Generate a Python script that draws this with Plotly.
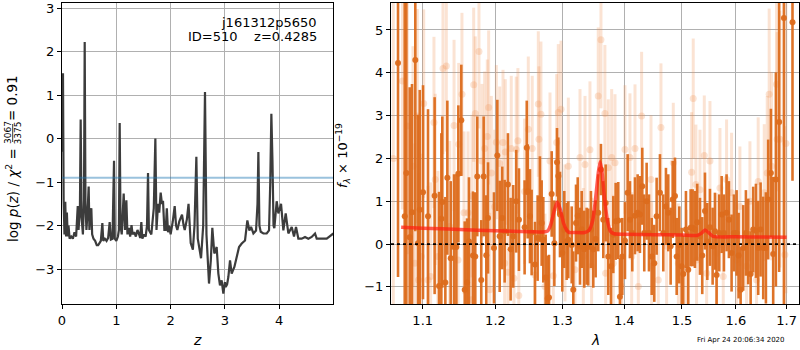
import plotly.graph_objects as go

# ---------------- Left panel: log p(z) ----------------
z_grid = [0.000, 0.018, 0.030, 0.045, 0.060, 0.075, 0.090, 0.105, 0.120, 0.140, 0.170, 0.200, 0.230, 0.260,
          0.290, 0.305, 0.330, 0.344, 0.360, 0.385, 0.405, 0.418, 0.432, 0.450, 0.470, 0.491, 0.505, 0.520,
          0.540, 0.555, 0.580, 0.610, 0.640, 0.665, 0.690, 0.715, 0.743, 0.760, 0.790, 0.820, 0.850, 0.878,
          0.900, 0.930, 0.945, 0.958, 0.972, 1.000, 1.030, 1.048, 1.062, 1.078, 1.100, 1.136, 1.160, 1.185,
          1.205, 1.230, 1.255, 1.280, 1.300, 1.330, 1.360, 1.390, 1.420, 1.440, 1.461, 1.480, 1.510, 1.540,
          1.565, 1.584, 1.600, 1.645, 1.690, 1.719, 1.740, 1.768, 1.790, 1.817, 1.840, 1.860, 1.885, 1.910,
          1.930, 1.952, 1.975, 2.000, 2.040, 2.075, 2.100, 2.124, 2.160, 2.210, 2.240, 2.260, 2.300, 2.330,
          2.370, 2.410, 2.440, 2.474, 2.500, 2.523, 2.560, 2.600, 2.633, 2.660, 2.690, 2.707, 2.740, 2.768,
          2.805, 2.848, 2.879, 2.909, 2.940, 2.971, 3.000, 3.014, 3.040, 3.063, 3.094, 3.124, 3.174, 3.217,
          3.260, 3.309, 3.370, 3.413, 3.450, 3.481, 3.524, 3.573, 3.600, 3.616, 3.635, 3.659, 3.708, 3.769,
          3.812, 3.835, 3.855, 3.875, 3.895, 3.910, 3.953, 3.984, 4.033, 4.076, 4.119, 4.168, 4.230, 4.272,
          4.309, 4.352, 4.414, 4.475, 4.536, 4.598, 4.659, 4.690, 4.782, 4.874, 4.935, 4.996]
log_pz = [-0.30, 1.50, -1.40, -2.20, -1.45, -2.25, -1.70, -2.25, -2.00, -2.30, -2.25, -2.30, -2.15, -2.25,
          -1.55, -2.10, -1.60, 0.44, -1.80, -2.20, -1.40, 2.22, -1.50, -2.10, -1.70, -1.10, -2.10, -1.70,
          -1.60, -2.20, -2.30, -2.35, -2.45, -2.45, -2.40, -2.35, -1.94, -2.35, -2.30, -2.35, -2.28, -1.92,
          -2.32, -2.30, -1.30, -0.51, -2.30, -2.35, -2.25, -2.10, 0.36, -2.00, -2.20, -1.26, -2.10, -1.42,
          -2.20, -2.05, -2.25, -1.99, -2.20, -2.15, -2.25, -2.10, -2.20, -2.28, -1.92, -2.30, -2.20, -2.25,
          -2.00, -0.79, -2.10, -2.20, -1.60, 0.00, -2.10, -1.50, -1.70, -1.24, -1.50, -1.43, -2.10, -2.10,
          -1.60, -2.15, -2.00, -2.20, -1.90, -1.55, -2.00, -2.10, -1.90, -1.75, -2.00, -2.10, -1.85, -1.50,
          -2.40, -2.55, -2.00, -0.42, -2.30, -2.49, -2.75, -2.00, 1.07, -2.20, -3.00, -3.33, -2.80, -2.05,
          -2.64, -2.49, -3.10, -3.37, -3.26, -3.56, -3.30, -3.41, -3.35, -3.18, -2.80, -3.10, -2.95, -2.72,
          -2.49, -2.41, -2.34, -1.88, -2.11, -2.03, -2.18, -2.11, -1.50, -0.31, -2.00, -2.14, -2.18, -2.18,
          -2.11, -1.00, 0.57, -0.50, -2.00, -2.06, -1.44, -1.72, -1.50, -2.11, -1.72, -2.18, -2.03, -2.25,
          -2.03, -2.30, -2.30, -2.26, -2.30, -2.26, -2.18, -2.30, -2.30, -2.30, -2.24, -2.18]
pz_threshold = -0.9
left_xticks = [0, 1, 2, 3, 4]
left_yticks = [-3, -2, -1, 0, 1, 2, 3]

# ---------------- Right panel: spectrum ----------------
dark_lam = [1.0680, 1.0766, 1.0787, 1.0830, 1.0860, 1.0903, 1.0938, 1.0961, 1.1004, 1.1070, 1.1158, 1.1217,
            1.1248, 1.1261, 1.1302, 1.1329, 1.1375, 1.1420, 1.1452, 1.1479, 1.1520, 1.1567, 1.1599, 1.1626,
            1.1682, 1.1714, 1.1742, 1.1798, 1.1832, 1.1869, 1.1894, 1.1979, 1.2027, 1.2061, 1.2098, 1.2133,
            1.2181, 1.2220, 1.2258, 1.2302, 1.2342, 1.2426, 1.2458, 1.2472, 1.2506, 1.2531, 1.2581, 1.2621,
            1.2656, 1.2682, 1.2707, 1.2743, 1.2774, 1.2794, 1.2835, 1.2876, 1.2917, 1.2937, 1.2963, 1.2999,
            1.3030, 1.3067, 1.3093, 1.3146, 1.3171, 1.3214, 1.3241, 1.3277, 1.3304, 1.3345, 1.3383, 1.3409,
            1.3452, 1.3490, 1.3528, 1.3570, 1.3614, 1.3652, 1.3691, 1.3734, 1.3779, 1.3817, 1.3856, 1.3899,
            1.3927, 1.3966, 1.4011, 1.4056, 1.4095, 1.4134, 1.4180, 1.4225, 1.4264, 1.4304, 1.4338, 1.4379,
            1.4419, 1.4466, 1.4511, 1.4552, 1.4610, 1.4668, 1.4715, 1.4756, 1.4798, 1.4834, 1.4875, 1.4905,
            1.4952, 1.4994, 1.5023, 1.5071, 1.5113, 1.5156, 1.5192, 1.5234, 1.5276, 1.5326, 1.5368, 1.5418,
            1.5461, 1.5510, 1.5560, 1.5603, 1.5634, 1.5684, 1.5729, 1.5772, 1.5822, 1.5866, 1.5917, 1.5961,
            1.6013, 1.6051, 1.6090, 1.6140, 1.6192, 1.6237, 1.6284, 1.6334, 1.6387, 1.6432, 1.6479, 1.6531,
            1.6584, 1.6629, 1.6683, 1.6729, 1.6783, 1.6849, 1.6945, 1.7120]
dark_flux = [4.23, 0.65, 1.66, 0.16, 0.74, 4.30, 0.02, 0.80, 1.21, 0.65, 1.13, -0.98,
             0.59, 0.98, -0.90, 1.55, -0.33, -0.07, -0.07, 1.64, 2.89, -1.07, -0.90, 0.06,
             -0.27, -0.29, 1.58, -0.84, 1.58, -0.26, 0.61, -0.09, 2.07, 0.18, 0.61, 0.30,
             1.39, -0.12, 0.18, 1.00, 0.57, 0.39, 2.25, 1.23, 0.65, 0.27, -0.48, 0.14,
             1.05, 0.49, 0.10, -0.78, -1.27, -1.25, 1.17, 0.02, 1.91, 1.59, 0.69, -0.21,
             0.34, 0.06, 0.10, -0.02, -1.07, 0.49, 0.66, -0.05, 0.34, -0.12, -0.05, -0.07,
             0.34, -0.12, 0.12, 0.73, 1.74, 0.57, 0.96, -0.29, -0.52, 0.22, 0.53, 0.55,
             -1.23, -0.29, 0.08, 1.20, 0.57, 0.26, 0.66, 0.73, 0.69, 1.35, 0.26, 1.00,
             0.26, -0.29, -0.45, 0.65, 1.20, 0.26, 0.88, 0.73, -0.05, 1.04, 1.12, -0.29,
             -0.02, -0.52, -0.70, 0.34, -0.60, 0.38, 0.38, 0.34, 0.51, 0.18, -0.27, 0.77,
             0.06, 0.39, -0.05, 0.30, -0.72, 0.26, 0.69, 0.26, 0.73, 0.57, -0.21, 0.26,
             0.26, -0.27, -1.07, -0.09, 0.26, 0.06, -0.70, 0.34, 0.31, -0.09, 0.34, -0.09,
             -0.09, 1.04, 1.66, -0.23, 1.51, 2.85, 5.28, 5.18]
dark_err = [5.0, 5.0, 4.0, 3.5, 3.0, 4.0, 3.0, 2.8, 2.5, 2.5, 2.3, 2.2,
            2.0, 2.0, 2.0, 1.8, 1.8, 1.7, 1.7, 1.6, 1.3, 1.6, 1.5, 1.5,
            1.5, 1.5, 1.4, 1.4, 1.4, 1.4, 1.3, 1.3, 1.3, 1.3, 1.2, 1.2,
            1.2, 1.2, 1.2, 1.2, 1.2, 1.1, 1.1, 1.1, 1.1, 1.0, 1.0, 1.0,
            1.0, 1.0, 1.0, 1.0, 1.0, 1.0, 1.0, 1.0, 0.8, 0.9, 1.0, 0.9,
            0.9, 0.9, 0.9, 0.9, 0.9, 0.9, 0.9, 0.9, 0.9, 0.9, 0.9, 0.9,
            0.9, 0.9, 0.9, 0.9, 0.6, 0.9, 0.9, 0.9, 0.9, 0.9, 0.9, 0.9,
            0.9, 0.9, 0.9, 0.9, 0.9, 0.9, 0.9, 0.9, 0.9, 0.9, 0.9, 0.9,
            0.9, 0.9, 0.9, 0.9, 0.9, 0.9, 0.9, 0.9, 0.9, 0.9, 0.9, 0.9,
            0.9, 0.9, 0.9, 0.9, 0.9, 0.9, 0.9, 0.9, 0.9, 0.9, 0.9, 0.9,
            0.9, 0.9, 0.9, 0.9, 0.9, 0.9, 0.9, 0.9, 0.9, 0.9, 0.9, 0.9,
            1.0, 1.0, 1.0, 1.0, 1.0, 1.0, 1.0, 1.0, 1.1, 1.1, 1.1, 1.2,
            1.3, 1.4, 1.5, 1.8, 2.5, 3.5, 7.0, 3.7]

light_lam = [1.0620, 1.0737, 1.0800, 1.0873, 1.0895, 1.0929, 1.0945, 1.0982, 1.1013, 1.1070, 1.1105, 1.1149,
             1.1166, 1.1202, 1.1270, 1.1315, 1.1361, 1.1420, 1.1475, 1.1484, 1.1529, 1.1557, 1.1613, 1.1659,
             1.1668, 1.1692, 1.1714, 1.1766, 1.1808, 1.1846, 1.1883, 1.1903, 1.1918, 1.1941, 1.1989, 1.2013,
             1.2061, 1.2109, 1.2133, 1.2142, 1.2181, 1.2229, 1.2268, 1.2302, 1.2327, 1.2340, 1.2426, 1.2481,
             1.2540, 1.2581, 1.2631, 1.2641, 1.2671, 1.2732, 1.2809, 1.2860, 1.2912, 1.2937, 1.2979, 1.3041,
             1.3093, 1.3198, 1.3277, 1.3330, 1.3357, 1.3436, 1.3463, 1.3570, 1.3614, 1.3679, 1.3691, 1.3734,
             1.3790, 1.3817, 1.3845, 1.3955, 1.4011, 1.4095, 1.4124, 1.4180, 1.4236, 1.4293, 1.4454, 1.4466,
             1.4581, 1.4627, 1.4727, 1.4845, 1.4935, 1.5083, 1.5174, 1.5203, 1.5252, 1.5264, 1.5326, 1.5405,
             1.5449, 1.5510, 1.5634, 1.5697, 1.5759, 1.5822, 1.5917, 1.6013, 1.6076, 1.6205, 1.6270, 1.6400,
             1.6432, 1.6551, 1.6610, 1.6649, 1.6697, 1.6796, 1.6809, 1.6863, 1.6965, 1.6986]
light_flux = [2.00, 3.81, 2.76, 1.82, -0.45, 2.99, -0.84, -0.29, 3.28, -0.84, -0.76, 2.84,
              1.51, -0.29, 4.10, 4.16, 0.41, 2.77, -0.37, 2.33, 3.50, 0.73, 0.73, -1.30,
              1.12, 3.72, 3.05, 4.50, 1.94, 2.23, 2.51, 3.19, -1.07, 1.66, 0.87, 2.38,
              1.88, 2.37, -0.45, 2.15, -0.66, 2.23, -0.80, 2.21, 2.41, -1.20, 1.23, 2.68,
              2.23, -0.72, 3.27, 2.45, 3.03, -0.99, 1.94, -0.74, 2.37, 3.07, 3.15, 0.26,
              1.82, -0.60, 2.02, -0.29, 1.86, 2.20, -0.52, 3.46, 4.77, 3.05, -0.68, 1.78,
              2.02, -0.45, 1.90, -0.99, 2.21, 2.02, -0.29, 2.23, -0.99, 2.99, 1.51, -0.52,
              -0.84, 2.72, -0.05, 1.90, -0.45, -0.60, 1.68, 3.40, 1.39, -0.37, 1.27, 2.07,
              -0.68, 1.94, -0.21, 1.31, -0.76, 1.51, 1.20, -0.37, 0.88, -0.52, 1.00, -0.84,
              1.46, 1.20, 1.66, 3.50, 1.82, 3.73, 2.45, 2.45, -0.25, 2.35]
light_err = [4.0, 3.0, 3.0, 2.8, 2.8, 2.5, 2.5, 2.4, 2.2, 2.2, 2.2, 2.0,
             2.0, 2.0, 2.0, 2.0, 2.0, 2.0, 1.9, 1.9, 1.9, 1.9, 1.9, 1.9,
             1.9, 1.8, 1.8, 1.8, 1.8, 1.8, 1.8, 1.8, 1.8, 1.8, 1.8, 1.8,
             1.8, 1.7, 1.7, 1.7, 1.7, 1.7, 1.7, 1.7, 1.7, 1.7, 1.7, 1.7,
             1.7, 1.7, 1.7, 1.7, 1.7, 1.7, 1.6, 1.6, 1.6, 1.6, 1.6, 1.6,
             1.6, 1.6, 1.6, 1.6, 1.6, 1.6, 1.6, 1.6, 1.6, 1.6, 1.6, 1.6,
             1.6, 1.6, 1.6, 1.6, 1.5, 1.5, 1.5, 1.5, 1.5, 1.5, 1.5, 1.5,
             1.5, 1.5, 1.4, 1.4, 1.4, 1.4, 1.4, 1.4, 1.4, 1.4, 1.4, 1.4,
             1.4, 1.4, 1.4, 1.4, 1.4, 1.4, 1.4, 1.4, 1.4, 1.4, 1.4, 1.5,
             1.5, 1.6, 1.8, 2.0, 2.2, 2.5, 2.5, 3.0, 3.0, 3.5]

model_lam = [1.072, 1.100, 1.150, 1.200, 1.250, 1.270, 1.277, 1.282, 1.287, 1.292, 1.297, 1.302, 1.307,
             1.311, 1.320, 1.335, 1.342, 1.348, 1.353, 1.357, 1.360, 1.363, 1.367, 1.372, 1.377, 1.383,
             1.400, 1.450, 1.500, 1.527, 1.535, 1.542, 1.549, 1.557, 1.600, 1.650, 1.700]
model_flux = [0.39, 0.37, 0.34, 0.31, 0.29, 0.28, 0.30, 0.45, 0.75, 0.98, 0.80, 0.48, 0.32,
              0.27, 0.27, 0.27, 0.32, 0.55, 1.10, 1.65, 1.92, 1.70, 1.10, 0.55, 0.30, 0.24,
              0.23, 0.22, 0.21, 0.20, 0.25, 0.33, 0.26, 0.18, 0.17, 0.165, 0.16]
zero_level = 0.0
right_xticks = [1.1, 1.2, 1.3, 1.4, 1.5, 1.6, 1.7]
right_yticks = [-1, 0, 1, 2, 3, 4, 5]

obj_name = "j161312p5650"
obj_id = 510
obj_z = 0.4285
chi2_num, chi2_den, chi2_red = 3067, 3375, 0.91
timestamp = "Fri Apr 24 20:06:34 2020"

# ---------------- Figure ----------------
W, H = 800, 350
FONT = "DejaVu Sans"
DARK = "rgba(220,108,28,0.95)"
LIGHT = "rgba(238,145,85,0.26)"

def px(x):
    return x / W

def py(y):
    return 1 - y / H

fig = go.Figure()

fig.add_trace(go.Scatter(x=z_grid, y=log_pz, mode="lines",
                         line=dict(color="#3c3c3c", width=2.2), xaxis="x", yaxis="y",
                         showlegend=False, hoverinfo="skip"))

fig.add_trace(go.Scatter(x=light_lam, y=light_flux, mode="markers", xaxis="x2", yaxis="y2",
                         marker=dict(color=LIGHT, size=7, line=dict(width=0)),
                         error_y=dict(type="data", array=light_err, visible=True, thickness=3,
                                      width=0, color=LIGHT),
                         showlegend=False, hoverinfo="skip"))

fig.add_trace(go.Scatter(x=dark_lam, y=dark_flux, mode="markers", xaxis="x2", yaxis="y2",
                         marker=dict(color=DARK, size=6, line=dict(width=0)),
                         error_y=dict(type="data", array=dark_err, visible=True, thickness=2.6,
                                      width=0, color=DARK),
                         showlegend=False, hoverinfo="skip"))

fig.add_trace(go.Scatter(x=model_lam, y=model_flux, mode="lines", xaxis="x2", yaxis="y2",
                         line=dict(color="rgba(255,30,18,0.72)", width=3.5, shape="spline",
                                   smoothing=0.6),
                         showlegend=False, hoverinfo="skip"))

axis_common = dict(showgrid=True, gridcolor="#b0b0b0", gridwidth=1, zeroline=False,
                   showline=True, linecolor="black", linewidth=1, mirror=True,
                   ticks="outside", ticklen=4, tickcolor="black", automargin=False,
                   tickfont=dict(family=FONT, size=13, color="black"))

fig.update_layout(
    width=W, height=H, autosize=False,
    margin=dict(l=0, r=0, t=0, b=0, pad=0, autoexpand=False),
    paper_bgcolor="white", plot_bgcolor="white",
    xaxis=dict(domain=[px(62), px(333)], range=[0, 4.99], tickvals=left_xticks, anchor="y",
               **axis_common),
    yaxis=dict(domain=[py(304), py(3)], range=[-3.8, 3.115], tickvals=left_yticks, anchor="x",
               **axis_common),
    xaxis2=dict(domain=[px(391), px(799)], type="log", range=[0.02492, 0.23688],
                tickvals=right_xticks, ticktext=[str(v) for v in right_xticks], anchor="y2",
                **axis_common),
    yaxis2=dict(domain=[py(304), py(3)], range=[-1.4, 5.63], tickvals=right_yticks, anchor="x2",
                **axis_common),
)

# horizontal reference lines
fig.add_shape(type="line", xref="x domain", yref="y", x0=0, x1=1, y0=pz_threshold, y1=pz_threshold,
              line=dict(color="rgba(31,119,180,0.45)", width=2.2))
fig.add_shape(type="line", xref="x2 domain", yref="y2", x0=0, x1=1, y0=zero_level, y1=zero_level,
              line=dict(color="black", width=1.8, dash="dot"))

ann = []
# object label
ann.append(dict(x=px(319), y=py(13), xref="paper", yref="paper", xanchor="right", yanchor="top",
                text=obj_name, showarrow=False, font=dict(family=FONT, size=13, color="black")))
ann.append(dict(x=px(319), y=py(27), xref="paper", yref="paper", xanchor="right", yanchor="top",
                text=f"ID={obj_id}\u00a0\u00a0\u00a0\u00a0z={obj_z:.4f}", showarrow=False,
                font=dict(family=FONT, size=13, color="black")))
# axis titles
ann.append(dict(x=px(197), y=py(340), xref="paper", yref="paper", xanchor="center", yanchor="middle",
                text="<i>z</i>", showarrow=False, font=dict(family=FONT, size=14, color="black")))
ann.append(dict(x=px(595), y=py(340), xref="paper", yref="paper", xanchor="center", yanchor="middle",
                text="<i>λ</i>", showarrow=False, font=dict(family=FONT, size=14, color="black")))
# left y label (pieces around the stacked fraction)
ann.append(dict(x=px(12), y=py(146), xref="paper", yref="paper", xanchor="center", yanchor="top",
                textangle=-90, text="log <i>p</i>(<i>z</i>) / <i>χ</i><sup>2</sup> =", showarrow=False,
                font=dict(family=FONT, size=13.5, color="black")))
ann.append(dict(x=px(8), y=py(133), xref="paper", yref="paper", xanchor="center", yanchor="middle",
                textangle=-90, text=str(chi2_num), showarrow=False,
                font=dict(family=FONT, size=9, color="black")))
ann.append(dict(x=px(17.5), y=py(133), xref="paper", yref="paper", xanchor="center", yanchor="middle",
                textangle=-90, text=str(chi2_den), showarrow=False,
                font=dict(family=FONT, size=9, color="black")))
ann.append(dict(x=px(12), y=py(123), xref="paper", yref="paper", xanchor="center", yanchor="bottom",
                textangle=-90, text=f"= {chi2_red:.2f}", showarrow=False,
                font=dict(family=FONT, size=13.5, color="black")))
# right y label
ann.append(dict(x=px(343), y=py(156), xref="paper", yref="paper", xanchor="center", yanchor="middle",
                textangle=-90, text="<i>f</i><sub><i>λ</i></sub> × 10<sup>−19</sup>", showarrow=False,
                font=dict(family=FONT, size=13, color="black")))
# timestamp
ann.append(dict(x=px(787), y=py(340), xref="paper", yref="paper", xanchor="right", yanchor="middle",
                text=timestamp, showarrow=False, font=dict(family=FONT, size=7, color="black")))
fig.update_layout(annotations=ann)

# fraction bar
fig.add_shape(type="line", xref="paper", yref="paper", x0=px(12.7), x1=px(12.7), y0=py(124), y1=py(142),
              line=dict(color="black", width=0.8))

fig.write_html("out.html", config={"displayModeBar": False},
               post_script="document.body.style.margin='0';document.body.style.padding='0';"
                           "document.body.style.overflow='hidden';")
